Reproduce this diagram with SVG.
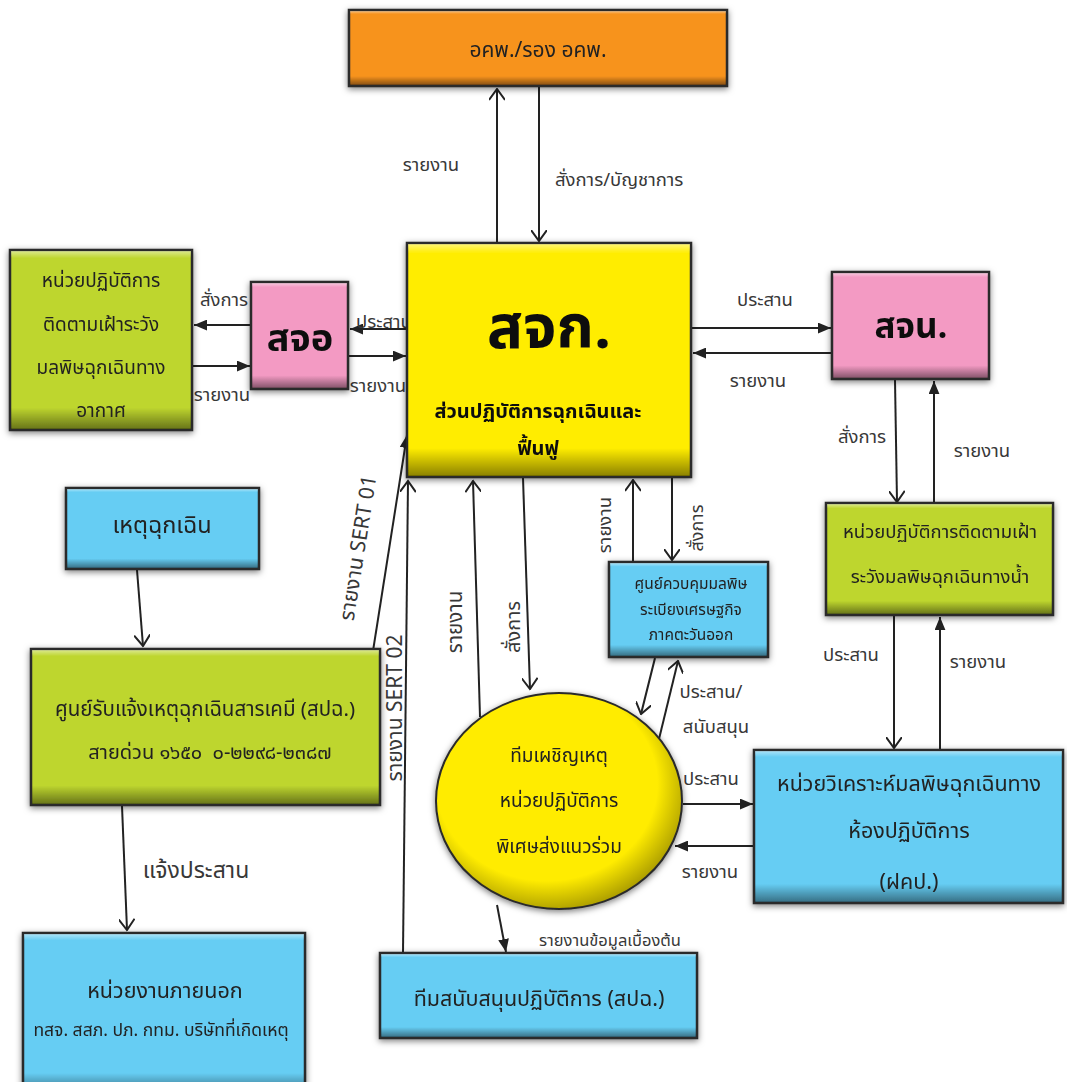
<svg xmlns="http://www.w3.org/2000/svg" width="1067" height="1082" viewBox="0 0 1067 1082">
<style>
.box{stroke:#2b2b2b;stroke-width:2.5}
.bev{fill:url(#bevel)}
.t{font-family:"Noto Sans Thai","Noto Sans","Liberation Sans",sans-serif;fill:#222;text-anchor:middle}
.lbl{font-family:"Noto Sans Thai","Noto Sans","Liberation Sans",sans-serif;fill:#383838;font-size:18.5px}
.big{font-weight:bold;fill:#111}
.ln{stroke:#222;stroke-width:2;fill:none}
.f{marker-end:url(#fa)}
.o{marker-end:url(#oa)}
</style>
<defs>
<linearGradient id="bevel" x1="0" y1="0" x2="0" y2="1">
<stop offset="0" stop-color="#fff" stop-opacity="0.45"/>
<stop offset="0.04" stop-color="#fff" stop-opacity="0"/>
<stop offset="0.88" stop-color="#000" stop-opacity="0"/>
<stop offset="1" stop-color="#000" stop-opacity="0.45"/>
</linearGradient>
<radialGradient id="ell" cx="0.45" cy="0.42" r="0.6">
<stop offset="0.75" stop-color="#ffec00"/>
<stop offset="1" stop-color="#a89a00"/>
</radialGradient>
<filter id="sh" x="-10%" y="-10%" width="120%" height="125%">
<feDropShadow dx="0" dy="2" stdDeviation="3" flood-color="#000" flood-opacity="0.5"/>
</filter>
<marker id="fa" viewBox="0 0 12 10" refX="12" refY="5" markerWidth="13" markerHeight="11" markerUnits="userSpaceOnUse" orient="auto">
<path d="M0,0 L12,5 L0,10 z" fill="#222"/>
</marker>
<marker id="oa" viewBox="0 0 12 16" refX="11" refY="8" markerWidth="13" markerHeight="16" markerUnits="userSpaceOnUse" orient="auto">
<path d="M0,0 L11,8 L0,16" fill="none" stroke="#222" stroke-width="2"/>
</marker>
</defs>
<rect width="1067" height="1082" fill="#fff"/>

<g id="connectors">
<line class="ln o" x1="497" y1="243" x2="497" y2="89"/>
<line class="ln o" x1="539" y1="87" x2="539" y2="241"/>
<line class="ln f" x1="251" y1="325" x2="194" y2="325"/>
<line class="ln f" x1="193" y1="366" x2="250" y2="366"/>
<line class="ln f" x1="407" y1="329" x2="350" y2="329"/>
<line class="ln f" x1="349" y1="356" x2="406" y2="356"/>
<line class="ln f" x1="691" y1="328" x2="831" y2="328"/>
<line class="ln f" x1="831" y1="353" x2="693" y2="353"/>
<line class="ln o" x1="895" y1="380" x2="897" y2="502"/>
<line class="ln f" x1="934" y1="503" x2="934" y2="381"/>
<line class="ln o" x1="894" y1="616" x2="894" y2="748"/>
<line class="ln f" x1="940" y1="750" x2="940" y2="617"/>
<line class="ln f" x1="683" y1="804" x2="753" y2="804"/>
<line class="ln f" x1="754" y1="846" x2="675" y2="846"/>
<line class="ln o" x1="672" y1="478" x2="672" y2="560"/>
<line class="ln o" x1="633" y1="562" x2="633" y2="480"/>
<line class="ln o" x1="655" y1="658" x2="641" y2="714"/>
<line class="ln o" x1="659" y1="739" x2="678" y2="661"/>
<line class="ln o" x1="523" y1="478" x2="530" y2="689"/>
<line class="ln o" x1="480" y1="717" x2="473" y2="481"/>
<line class="ln f" x1="373" y1="651" x2="407" y2="435"/>
<line class="ln o" x1="403" y1="953" x2="408" y2="481"/>
<line class="ln o" x1="137" y1="570" x2="143" y2="646"/>
<line class="ln o" x1="122" y1="806" x2="127" y2="930"/>
<line class="ln f" x1="497" y1="905" x2="506" y2="952"/>

<text class="lbl" x="431" y="171" text-anchor="middle">รายงาน</text>
<text class="lbl" x="555" y="186">สั่งการ/บัญชาการ</text>
<text class="lbl" x="224" y="306" text-anchor="middle">สั่งการ</text>
<text class="lbl" x="222" y="401" text-anchor="middle">รายงาน</text>
<text class="lbl" x="384" y="328" text-anchor="middle">ประสาน</text>
<text class="lbl" x="378" y="392" text-anchor="middle">รายงาน</text>
<text class="lbl" x="765" y="306" text-anchor="middle">ประสาน</text>
<text class="lbl" x="758" y="387" text-anchor="middle">รายงาน</text>
<text class="lbl" x="862" y="443" text-anchor="middle">สั่งการ</text>
<text class="lbl" x="982" y="457" text-anchor="middle">รายงาน</text>
<text class="lbl" x="851" y="661" text-anchor="middle">ประสาน</text>
<text class="lbl" x="978" y="668" text-anchor="middle">รายงาน</text>
<text class="lbl" x="711" y="785" text-anchor="middle">ประสาน</text>
<text class="lbl" x="710" y="878" text-anchor="middle">รายงาน</text>
<text class="lbl" x="711" y="698" text-anchor="middle">ประสาน/</text>
<text class="lbl" x="716" y="733" text-anchor="middle">สนับสนุน</text>
<text class="lbl" x="196" y="878" text-anchor="middle" style="font-size:23px">แจ้งประสาน</text>
<text class="lbl" x="610" y="946" text-anchor="middle" style="font-size:16.5px">รายงานข้อมูลเบื้องต้น</text>
<text class="lbl" text-anchor="middle" style="font-size:18.5px" transform="translate(611,525) rotate(-90)">รายงาน</text>
<text class="lbl" text-anchor="middle" style="font-size:18px" transform="translate(703,528) rotate(-90)">สั่งการ</text>
<text class="lbl" text-anchor="middle" style="font-size:20.5px" transform="translate(462,622) rotate(-90)">รายงาน</text>
<text class="lbl" text-anchor="middle" style="font-size:20px" transform="translate(520,627) rotate(-90)">สั่งการ</text>
<text class="lbl" text-anchor="middle" style="font-size:21px" transform="translate(365,549) rotate(-81)">รายงาน SERT 01</text>
<text class="lbl" text-anchor="middle" style="font-size:21px" transform="translate(402,708) rotate(-90)">รายงาน SERT 02</text>
</g>

<g id="n-okp" filter="url(#sh)">
<rect class="box" x="349" y="10" width="378" height="76" fill="#f7931e"/>
<rect x="350" y="11" width="376" height="74" class="bev"/>
<text class="t" x="538" y="57" font-size="21">อคพ./รอง อคพ.</text>
</g>

<g id="n-sjk" filter="url(#sh)">
<rect class="box" x="407" y="243" width="284" height="234" fill="#ffed00"/>
<rect x="408" y="244" width="282" height="232" class="bev"/>
<text class="t big" x="549" y="348" font-size="60">สจก.</text>
<text class="t big" x="538" y="418" font-size="20">ส่วนปฏิบัติการฉุกเฉินและ</text>
<text class="t big" x="538" y="455" font-size="20">ฟื้นฟู</text>
</g>

<g id="n-air" filter="url(#sh)">
<rect class="box" x="10" y="250" width="182" height="180" fill="#bed62f"/>
<rect x="11" y="251" width="180" height="178" class="bev"/>
<text class="t" x="101" y="287" font-size="19">หน่วยปฏิบัติการ</text>
<text class="t" x="101" y="331" font-size="19">ติดตามเฝ้าระวัง</text>
<text class="t" x="101" y="374" font-size="19">มลพิษฉุกเฉินทาง</text>
<text class="t" x="101" y="417" font-size="19">อากาศ</text>
</g>

<g id="n-sjo" filter="url(#sh)">
<rect class="box" x="251" y="282" width="97" height="107" fill="#f39ac3"/>
<rect x="252" y="283" width="95" height="105" class="bev"/>
<text class="t big" x="300" y="351" font-size="38">สจอ</text>
</g>

<g id="n-sjn" filter="url(#sh)">
<rect class="box" x="832" y="272" width="157" height="107" fill="#f39ac3"/>
<rect x="833" y="273" width="155" height="105" class="bev"/>
<text class="t big" x="911" y="338" font-size="35">สจน.</text>
</g>

<g id="n-water" filter="url(#sh)">
<rect class="box" x="826" y="503" width="227" height="112" fill="#bed62f"/>
<rect x="827" y="504" width="225" height="110" class="bev"/>
<text class="t" x="940" y="538" font-size="18.5">หน่วยปฏิบัติการติดตามเฝ้า</text>
<text class="t" x="940" y="583" font-size="18.5">ระวังมลพิษฉุกเฉินทางน้ำ</text>
</g>

<g id="n-east" filter="url(#sh)">
<rect class="box" x="609" y="562" width="159" height="95" fill="#66cdf3"/>
<rect x="610" y="563" width="157" height="93" class="bev"/>
<text class="t" x="691" y="589" font-size="15.5">ศูนย์ควบคุมมลพิษ</text>
<text class="t" x="691" y="615" font-size="15.5">ระเบียงเศรษฐกิจ</text>
<text class="t" x="691" y="640" font-size="15.5">ภาคตะวันออก</text>
</g>

<g id="n-event" filter="url(#sh)">
<rect class="box" x="66" y="488" width="193" height="81" fill="#66cdf3"/>
<rect x="67" y="489" width="191" height="79" class="bev"/>
<text class="t" x="162" y="533" font-size="23.5">เหตุฉุกเฉิน</text>
</g>

<g id="n-center" filter="url(#sh)">
<rect class="box" x="31" y="649" width="349" height="156" fill="#bed62f"/>
<rect x="32" y="650" width="347" height="154" class="bev"/>
<text class="t" x="205" y="716" font-size="20.5">ศูนย์รับแจ้งเหตุฉุกเฉินสารเคมี (สปฉ.)</text>
<text class="t" x="210" y="759" font-size="20">สายด่วน ๑๖๕๐&#160;&#160;๐-๒๒๙๘-๒๓๘๗</text>
</g>

<g id="n-ext" filter="url(#sh)">
<rect class="box" x="23" y="933" width="282" height="160" fill="#66cdf3"/>
<rect x="24" y="934" width="280" height="158" class="bev"/>
<text class="t" x="165" y="998" font-size="21.5">หน่วยงานภายนอก</text>
<text class="t" x="161" y="1036" font-size="17.5">ทสจ. สสภ. ปภ. กทม. บริษัทที่เกิดเหตุ</text>
</g>

<g id="n-support" filter="url(#sh)">
<rect class="box" x="380" y="953" width="317" height="85" fill="#66cdf3"/>
<rect x="381" y="954" width="315" height="83" class="bev"/>
<text class="t" x="539" y="1006" font-size="21.5">ทีมสนับสนุนปฏิบัติการ (สปฉ.)</text>
</g>

<g id="n-team" filter="url(#sh)">
<ellipse cx="559" cy="801" rx="123" ry="108" fill="url(#ell)" stroke="#2b2b2b" stroke-width="2"/>
<text class="t" x="559" y="762" font-size="19">ทีมเผชิญเหตุ</text>
<text class="t" x="559" y="807" font-size="19">หน่วยปฏิบัติการ</text>
<text class="t" x="559" y="853" font-size="19">พิเศษส่งแนวร่วม</text>
</g>

<g id="n-lab" filter="url(#sh)">
<rect class="box" x="754" y="750" width="309" height="153" fill="#66cdf3"/>
<rect x="755" y="751" width="307" height="151" class="bev"/>
<text class="t" x="909" y="791" font-size="21.5">หน่วยวิเคราะห์มลพิษฉุกเฉินทาง</text>
<text class="t" x="909" y="838" font-size="21.5">ห้องปฏิบัติการ</text>
<text class="t" x="909" y="889" font-size="21.5">(ฝคป.)</text>
</g>
</svg>
